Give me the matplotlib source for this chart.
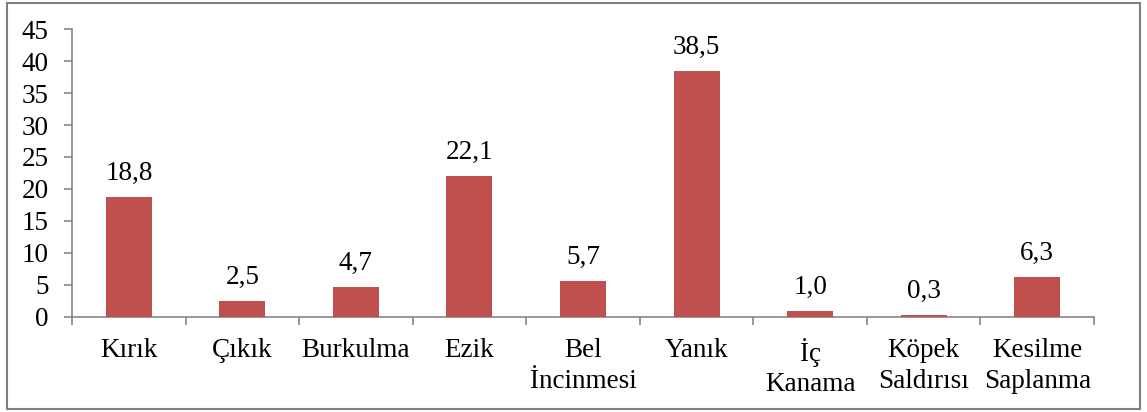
import matplotlib
matplotlib.use("Agg")
import matplotlib.pyplot as plt
from matplotlib.patches import Rectangle

categories = ["Kırık", "Çıkık", "Burkulma", "Ezik", "Bel\nİncinmesi", "Yanık",
              "İç\nKanama", "Köpek\nSaldırısı", "Kesilme\nSaplanma"]
values = [18.8, 2.5, 4.7, 22.1, 5.7, 38.5, 1.0, 0.3, 6.3]
yticks = [0, 5, 10, 15, 20, 25, 30, 35, 40, 45]

plt.rcParams['font.family'] = ['Liberation Serif', 'DejaVu Serif']
plt.rcParams['font.size'] = 19.5

fig = plt.figure(figsize=(11.47, 4.12), dpi=100)
ax = fig.add_axes([0.0628, 0.2306, 0.8910, 0.6990])

x = list(range(len(categories)))
ax.bar(x, values, width=0.405, color="#C0504D", zorder=3)
for xi, v in zip(x, values):
    ax.annotate(f"{v:.1f}".replace('.', ','), (xi, v), xytext=(0, 12),
                textcoords="offset points", ha="center", va="baseline", fontsize=19.5)

ax.set_xlim(-0.5, len(categories) - 0.5)
ax.set_ylim(0, 45)
ax.set_yticks(yticks)
ax.set_yticklabels([str(t) for t in yticks])

ax.set_xticks(x)
ax.set_xticklabels(categories, linespacing=1.3)
ax.set_xticks([i - 0.5 for i in range(len(categories) + 1)], minor=True)
ax.tick_params(axis='x', which='major', length=0, pad=15)
ax.tick_params(axis='x', which='minor', length=6, width=1.2, color="#868686", direction='out')
ax.tick_params(axis='y', length=6, width=1.2, color="#868686", direction='out', pad=11)

for s in ["top", "right"]:
    ax.spines[s].set_visible(False)
for s in ["left", "bottom"]:
    ax.spines[s].set_color("#868686")
    ax.spines[s].set_linewidth(1.2)

fig.patches.append(Rectangle((7/1147, 3/412), 1133/1147, 406/412, transform=fig.transFigure,
                             fill=False, edgecolor="#808080", linewidth=1.5))

fig.savefig("out.png", dpi=100)
